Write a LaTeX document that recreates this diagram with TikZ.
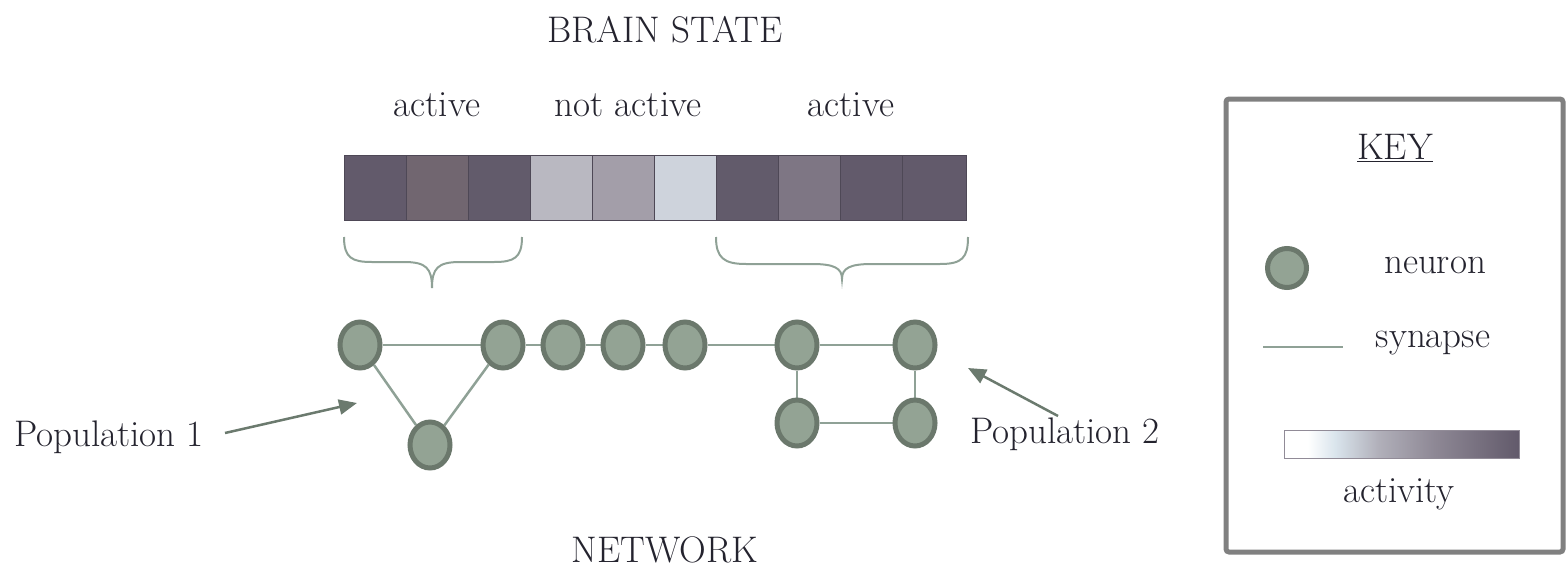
\documentclass[tikz,border=0pt]{standalone}
\usetikzlibrary{shapes.geometric,arrows.meta,backgrounds}
\definecolor{txt}{HTML}{24232E}
\definecolor{nfill}{HTML}{93A394}
\definecolor{nedge}{HTML}{6B786C}
\definecolor{syn}{HTML}{8FA196}
\definecolor{arr}{HTML}{6B7A6E}
\definecolor{keyframe}{HTML}{808080}
\definecolor{sqA}{HTML}{625A6B}
\definecolor{sqB}{HTML}{716670}
\definecolor{sqC}{HTML}{625B6B}
\definecolor{sqD}{HTML}{B9B8C1}
\definecolor{sqE}{HTML}{A39EA9}
\definecolor{sqF}{HTML}{CED3DC}
\definecolor{sqG}{HTML}{7E7684}
\definecolor{gblue}{HTML}{D9E4EC}
\definecolor{gmid}{HTML}{B1B0BA}
\definecolor{gmid2}{HTML}{8E8895}
\pgfdeclarehorizontalshading{activity}{100bp}{color(0bp)=(white); color(30bp)=(white); color(36bp)=(gblue); color(45bp)=(gmid); color(57bp)=(gmid2); color(75bp)=(sqA); color(100bp)=(sqA)}
\tikzset{
  lbl/.style={text=txt, font=\fontsize{37}{44}\selectfont, inner sep=0pt},
  neuron/.style={ellipse, draw=nedge, line width=5pt, fill=nfill, minimum width=40pt, minimum height=46pt, inner sep=0pt},
  keyneuron/.style={circle, draw=nedge, line width=5pt, fill=nfill, minimum size=39pt, inner sep=0pt},
  synapse/.style={draw=syn, line width=2.5pt},
  sq/.style={draw=sqA!80!black, line width=0.8pt, minimum width=62pt, minimum height=65pt, inner sep=0pt, anchor=north west},
  brace/.style={draw=syn, line width=2pt},
  poparrow/.style={draw=arr, line width=2.5pt, -{Triangle[length=18pt,width=15pt]}},
}
\begin{document}
\begin{tikzpicture}[x=1pt,y=-1pt]
\useasboundingbox (0,0) rectangle (1568,570);
% titles
\node[lbl] (title) at (665,30) {BRAIN STATE};
\node[lbl] (net) at (665,550) {NETWORK};
\node[lbl] (a1) at (437,105) {active};
\node[lbl] (na) at (628,105) {not active};
\node[lbl] (a2) at (851,105) {active};
% brain state bar
\node[sq, fill=sqA] (b1) at (344,155) {};
\node[sq, fill=sqB] (b2) at (406,155) {};
\node[sq, fill=sqC] (b3) at (468,155) {};
\node[sq, fill=sqD] (b4) at (530,155) {};
\node[sq, fill=sqE] (b5) at (592,155) {};
\node[sq, fill=sqF] (b6) at (654,155) {};
\node[sq, fill=sqC] (b7) at (716,155) {};
\node[sq, fill=sqG] (b8) at (778,155) {};
\node[sq, fill=sqA] (b9) at (840,155) {};
\node[sq, fill=sqA, minimum width=64pt] (b10) at (902,155) {};
% braces
\coordinate (lb) at (432,288);
\coordinate (rb) at (842,279);
\draw[brace] (344,237) .. controls (344,258) and (352,262) .. (372,262) -- (404,262)
  .. controls (426,262) and (432,268) .. (lb)
  .. controls (432,268) and (438,262) .. (460,262) -- (494,262)
  .. controls (514,262) and (522,258) .. (522,237);
\draw[brace] (716,237) .. controls (716,258) and (724,264) .. (746,264) -- (812,264)
  .. controls (834,264) and (842,268) .. (rb)
  .. controls (842,268) and (850,264) .. (872,264) -- (940,264)
  .. controls (962,264) and (968,258) .. (968,237);
% neurons
\node[neuron] (n1) at (360,345) {};
\node[neuron] (n2) at (503,345) {};
\node[neuron] (n3) at (563,345) {};
\node[neuron] (n4) at (623,345) {};
\node[neuron] (n5) at (685,345) {};
\node[neuron] (n6) at (797,345) {};
\node[neuron] (n7) at (915,345) {};
\node[neuron] (n8) at (430,445) {};
\node[neuron] (n9) at (797,423) {};
\node[neuron] (n10) at (915,423) {};
\begin{scope}[on background layer]
\draw[synapse] (n1) -- (n2);
\draw[synapse] (n2) -- (n3);
\draw[synapse] (n3) -- (n4);
\draw[synapse] (n4) -- (n5);
\draw[synapse] (n5) -- (n6);
\draw[synapse] (n6) -- (n7);
\draw[synapse] (n1) -- (n8);
\draw[synapse] (n2) -- (n8);
\draw[synapse] (n6) -- (n9);
\draw[synapse] (n7) -- (n10);
\draw[synapse] (n9) -- (n10);
\end{scope}
% population labels
\node[lbl] (p1) at (109,437) {Population 1};
\node[lbl] (p2) at (1065,434) {Population 2};
\coordinate (p1s) at (225,433);
\coordinate (p1e) at (357,403);
\coordinate (p2s) at (1058,416);
\coordinate (p2e) at (968,368);
\draw[poparrow] (p1s) -- (p1e);
\draw[poparrow] (p2s) -- (p2e);
% key
\draw[draw=keyframe, line width=5pt, rounded corners=3pt] (1226,99) rectangle (1563,552);
\node[lbl] (key) at (1395,148) {\underline{KEY}};
\node[keyneuron] (kn) at (1287,268) {};
\node[lbl] (knl) at (1435,265) {neuron};
\coordinate (ks1) at (1263,347);
\coordinate (ks2) at (1343,347);
\draw[synapse] (ks1) -- (ks2);
\node[lbl] (ksl) at (1433,343) {synapse};
\shade[shading=activity] (1284,430) rectangle (1519,458);
\draw[draw=sqA!70, line width=1pt] (1284,430) rectangle (1519,458);
\node[lbl] (kal) at (1399,494) {activity};
\end{tikzpicture}
\end{document}
